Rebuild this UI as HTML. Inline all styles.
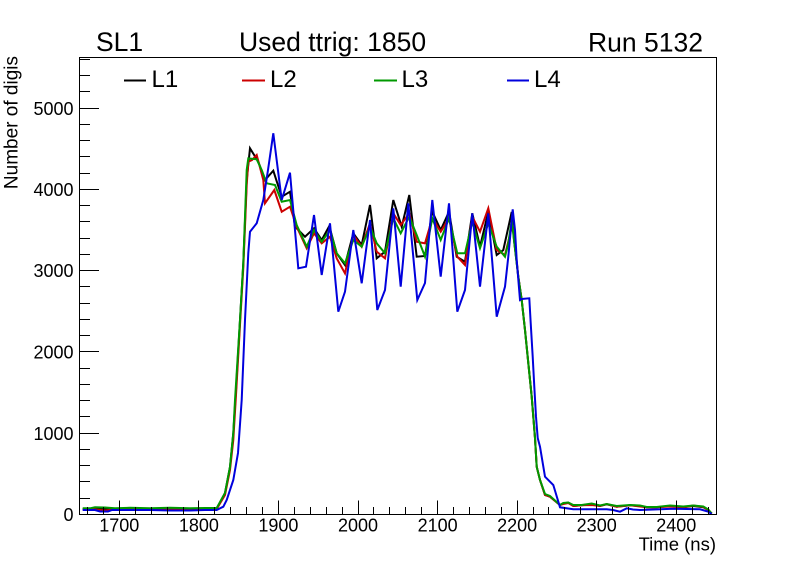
<!DOCTYPE html>
<html><head><meta charset="utf-8"><style>
html,body{margin:0;padding:0;background:#fff;}
svg{display:block;}
text{font-family:"Liberation Sans",Arial,sans-serif;fill:#000;}
</style></head><body>
<svg width="796" height="572" viewBox="0 0 796 572" xmlns="http://www.w3.org/2000/svg">
<rect x="0" y="0" width="796" height="572" fill="#fff"/>

<!-- titles -->
<text x="96" y="51" font-size="26.5">SL1</text>
<text x="239" y="51" font-size="26.5">Used ttrig: 1850</text>
<text x="588" y="51.5" font-size="26.5">Run 5132</text>

<!-- data series -->
<g fill="none" stroke-width="2" stroke-linejoin="miter">
<polyline stroke="#000000" points="82.7,509 95,509 110,508.5 130,509 150,509 170,508.5 190,509.5 205,509 216.7,509 225,493 230,467 233.3,433 236,390 240,320 243.3,263 246.7,180 250,148.3 258.3,161.7 265,180 273.3,170.7 281.7,196.7 290,191.7 295,226.7 305,236.7 314,228.3 321.7,240 329.3,226 336.7,253.3 345,265 353.3,233.3 361.7,245 370,205 376.7,258.3 385,251.7 393.3,200 401.7,226.7 409.3,195 416.7,256.7 425,256 432.3,211.7 440.7,230 449,211.7 456.7,256.7 465,261.7 472.3,213.3 480,246.7 488.3,211.7 496.7,255 503.3,250 511.7,212 514,240 518.3,276.7 521.7,300 525,330 528.3,363 531.7,396.7 535,438 536.7,466.7 540,480 545,495 550,496.7 560,505 563.3,503.3 568.3,502.7 573.3,506 581.7,505.3 591.7,504 600,506 606.7,504.3 616.7,506.7 630,505.3 640,506 646.7,507.3 656.7,507.3 670,506 683.3,507.3 693.3,506 703.3,507.3 708.3,510 711.7,513.5"/>
<polyline stroke="#cc0000" points="82.7,509.5 95,509.5 105,510.5 115,509.5 130,509 150,509.5 170,509 190,509.5 205,509.5 216.7,509 225,495 230,470 233.3,440 236,395 240,325 243.3,268 246.7,185 248.3,161.7 252,160 256.7,155 263.3,180 265,203.3 274.3,190 281.7,211.7 290,206.7 296.7,226.7 306.7,248.3 314,233.3 321.7,243.3 330,236.7 336.7,258.3 345,273.3 353.3,235 361.7,246.7 370,223.3 376.7,251.7 385,258.3 393.3,213.3 400.7,225 409.3,213.3 416.7,241.7 425,243.3 432.3,218.3 440.7,231.7 449,218.3 457.3,256.7 465,265 472.3,216.7 480,231.7 488.3,208.3 496.7,250 505,255 512.3,225 514.5,240 518.3,276.7 521.7,300 525,330 528.3,363 531.7,396.7 535,438 536.7,466.7 540,480 545,495 550,496.7 560,505 563.3,504 568.3,503 573.3,506 581.7,505.3 591.7,505 600,506 606.7,504 616.7,506.7 630,505.3 640,506.5 646.7,507.3 656.7,507.3 670,506.5 683.3,507.3 693.3,505.5 703.3,507 708.3,510 711.7,513.5"/>
<polyline stroke="#009900" points="82.7,508.3 90,508.3 95,507.3 105,507.5 115,508.3 130,507.8 150,508.3 170,507.8 190,508.3 205,508 216.7,508 225,493 230,467 233.3,433 235,400 240,320 243.3,263 246.7,170 248.3,158.3 256.7,159.3 261.7,170 266.7,183.3 275,185 281.7,201.7 290,200 296.7,225 306.7,246.7 314,230 321.7,241.7 330,230 336.7,253.3 345,263.3 353.3,240 361.7,246.7 370,226.7 376.7,243.3 385,253.3 393.3,218.3 400.7,233.3 409.3,216.7 416.7,235 425,256.7 432.3,218.3 440.7,240 449,218.3 457.3,253.3 465,253.3 472.3,221.7 480,248.3 488.3,223.3 496.7,246.7 505,256.7 508.3,243.3 511.7,220 514,240 518.3,276.7 521.7,300 525,330 528.3,363 531.7,396.7 535,438 536.7,466.7 540,480 545,494 550,496 560,505 563.3,503 568.3,502.5 573.3,505 581.7,505 591.7,503.5 600,505.5 606.7,504 616.7,506 630,505 640,505.5 646.7,507 656.7,507 670,505.5 683.3,506.5 693.3,505.5 703.3,506.5 708.3,509.5 711.7,513.5"/>
<polyline stroke="#0000dd" points="82.7,510 95,510 100,511.5 108,511.5 112,510 150,510 170,510.5 190,510.5 205,510 216.7,510 223.3,506.7 226.7,500 233.3,480 238,453 241.7,400 245,320 248.3,253 250,231.7 256.7,223.3 263.3,200 268,170 273.3,133.3 281.7,200 290,172.7 298.3,268.3 306,266.7 314,215 321.7,275 330,223.3 338.3,311.7 345,291.7 353.3,230 361.7,283.3 370,220 377.3,310 385,290 393.3,208.3 400.7,286.7 408.3,203.3 417.3,300 425,283 432.3,200 440.7,276.7 449,203.3 457.3,311.7 465,290 472.3,213.3 480,286.7 488.3,213.3 496.7,316.7 505,286.7 508.3,256.7 512.7,209.3 515,230 516.7,260 520,300 521.7,299 529.3,298.3 530.7,323 532.7,356.7 534.3,386.7 536,416.7 537.7,438 540,446.7 545,476.7 553.3,485 560,507.3 573.3,509.3 606.7,509.3 613,510 620,511.7 626.7,508.3 633,509.5 640,510 673.3,508.7 700,509.3 708.3,511.7 711.7,514"/>
</g>

<!-- frame -->
<g shape-rendering="crispEdges" stroke="#000" stroke-width="1" fill="none">
<rect x="79.5" y="57.5" width="637" height="457"/>
<path d="M80 514.5h19 M80 433.5h19 M80 351.5h19 M80 270.5h19 M80 189.5h19 M80 108.5h19"/>
<path d="M80 498.5h10 M80 481.5h10 M80 465.5h10 M80 449.5h10 M80 416.5h10 M80 400.5h10 M80 384.5h10 M80 368.5h10 M80 335.5h10 M80 319.5h10 M80 303.5h10 M80 286.5h10 M80 254.5h10 M80 238.5h10 M80 221.5h10 M80 205.5h10 M80 173.5h10 M80 156.5h10 M80 140.5h10 M80 124.5h10 M80 91.5h10 M80 75.5h10 M80 59.5h10"/>
<path d="M119.5 514v-13.5 M198.5 514v-13.5 M278.5 514v-13.5 M358.5 514v-13.5 M437.5 514v-13.5 M517.5 514v-13.5 M596.5 514v-13.5 M676.5 514v-13.5"/>
<path d="M87.5 514v-7 M103.5 514v-7 M135.5 514v-7 M151.5 514v-7 M167.5 514v-7 M183.5 514v-7 M214.5 514v-7 M230.5 514v-7 M246.5 514v-7 M262.5 514v-7 M294.5 514v-7 M310.5 514v-7 M326.5 514v-7 M342.5 514v-7 M373.5 514v-7 M389.5 514v-7 M405.5 514v-7 M421.5 514v-7 M453.5 514v-7 M469.5 514v-7 M485.5 514v-7 M501.5 514v-7 M533.5 514v-7 M548.5 514v-7 M564.5 514v-7 M580.5 514v-7 M612.5 514v-7 M628.5 514v-7 M644.5 514v-7 M660.5 514v-7 M692.5 514v-7 M708.5 514v-7"/>
</g>

<!-- y tick labels -->
<g font-size="18" text-anchor="end">
<text x="73.5" y="521">0</text>
<text x="73.5" y="440">1000</text>
<text x="73.5" y="358.5">2000</text>
<text x="73.5" y="277">3000</text>
<text x="73.5" y="196">4000</text>
<text x="73.5" y="115">5000</text>
</g>
<!-- x tick labels -->
<g font-size="18" text-anchor="middle">
<text x="119.3" y="531.5">1700</text>
<text x="198.9" y="531.5">1800</text>
<text x="278.4" y="531.5">1900</text>
<text x="358" y="531.5">2000</text>
<text x="437.6" y="531.5">2100</text>
<text x="517.1" y="531.5">2200</text>
<text x="596.7" y="531.5">2300</text>
<text x="676.3" y="531.5">2400</text>
</g>

<!-- axis titles -->
<text x="716" y="550.5" font-size="18.5" text-anchor="end">Time (ns)</text>
<text transform="translate(17.5,56) rotate(-90)" font-size="19" text-anchor="end">Number of digis</text>

<!-- legend -->
<g stroke-width="2" shape-rendering="crispEdges">
<line x1="124" y1="80.5" x2="146" y2="80.5" stroke="#000000"/>
<line x1="242" y1="80.5" x2="265" y2="80.5" stroke="#cc0000"/>
<line x1="374" y1="80.5" x2="397" y2="80.5" stroke="#009900"/>
<line x1="507" y1="80.5" x2="529" y2="80.5" stroke="#0000dd"/>
</g>
<g font-size="24">
<text x="151.5" y="87">L1</text>
<text x="270" y="87">L2</text>
<text x="401.5" y="87">L3</text>
<text x="534" y="87">L4</text>
</g>
</svg>
</body></html>
